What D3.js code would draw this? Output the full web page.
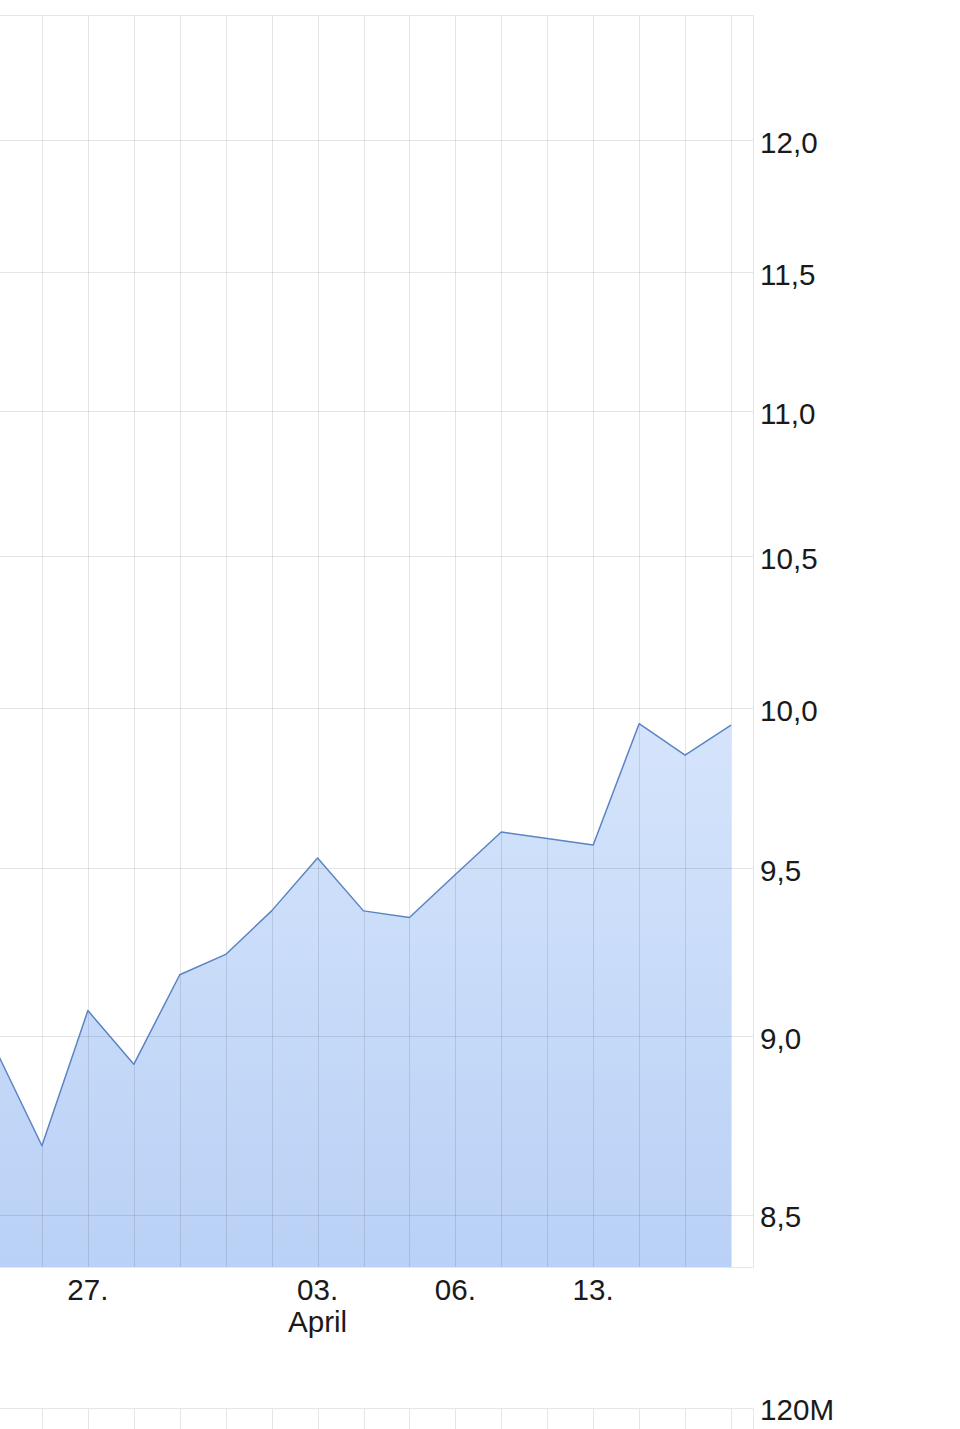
<!DOCTYPE html>
<html>
<head>
<meta charset="utf-8">
<script src="https://cdn.jsdelivr.net/npm/d3@7/dist/d3.min.js"></script>
<style>
  html, body { margin: 0; padding: 0; background: #fff; }
  svg { display: block; font-family: "Liberation Sans", Arial, sans-serif; }
</style>
</head>
<body>
<svg id="chart" width="960" height="1429"></svg>
<script>
// ---- data ----
const dates = ["2023-03-23","2023-03-24","2023-03-27","2023-03-28","2023-03-29","2023-03-30","2023-03-31",
               "2023-04-03","2023-04-04","2023-04-05","2023-04-06","2023-04-11","2023-04-12","2023-04-13",
               "2023-04-14","2023-04-17","2023-04-18"];
const closes = [8.96, 8.69, 9.075, 8.92, 9.18, 9.24, 9.37, 9.53, 9.37, 9.35, 9.48, 9.61, 9.59, 9.57, 9.95, 9.85, 9.945];
const priceTicks = [8.5, 9.0, 9.5, 10.0, 10.5, 11.0, 11.5, 12.0];
const xLabelDates = ["2023-03-27","2023-04-03","2023-04-06","2023-04-13"];
const xLabels = ["27.","03.","06.","13."];
const monthLabelDate = "2023-04-03";
const monthLabel = "April";
const volumeTicks = ["120M"];

// ---- layout ----
const svg = d3.select("#chart");
const plotRight = 753, plotTop = 15, plotBottom = 1267.5;
const volTop = 1408;
const fs = 29.6;

const x = d3.scaleLinear().domain([0, dates.length - 1]).range([-4, 731]);
const y = d3.scaleLog().domain([8.357, 12.49]).range([plotBottom, plotTop]);
const xi = d => dates.indexOf(d);

const defs = svg.append("defs");
const grad = defs.append("linearGradient").attr("id", "fillGrad")
  .attr("x1", 0).attr("x2", 0)
  .attr("gradientUnits", "userSpaceOnUse")
  .attr("y1", y(d3.max(closes))).attr("y2", plotBottom);
grad.append("stop").attr("offset", 0).attr("stop-color", "#d5e4fb");
grad.append("stop").attr("offset", 1).attr("stop-color", "#b9d1f6");

defs.append("clipPath").attr("id", "plotClip").append("rect")
  .attr("x", 0).attr("y", plotTop).attr("width", plotRight).attr("height", plotBottom - plotTop);

const g = svg.append("g").attr("clip-path", "url(#plotClip)");

// area
const area = d3.area().x((d, i) => x(i)).y0(plotBottom).y1(d => y(d));
g.append("path").datum(closes).attr("d", area).attr("fill", "url(#fillGrad)");

// grid (drawn over fill, semi-transparent)
const gridColor = "rgba(0,0,0,0.1)";
g.selectAll("line.hg").data(priceTicks).enter().append("line")
  .attr("x1", 0).attr("x2", plotRight)
  .attr("y1", d => Math.round(y(d)) + 0.5).attr("y2", d => Math.round(y(d)) + 0.5)
  .attr("stroke", gridColor).attr("stroke-width", 1);
g.selectAll("line.vg").data(dates).enter().append("line")
  .attr("x1", (d, i) => Math.round(x(i)) + 0.5).attr("x2", (d, i) => Math.round(x(i)) + 0.5)
  .attr("y1", plotTop).attr("y2", plotBottom)
  .attr("stroke", gridColor).attr("stroke-width", 1);

// line
const line = d3.line().x((d, i) => x(i)).y(d => y(d));
g.append("path").datum(closes).attr("d", line)
  .attr("fill", "none").attr("stroke", "#5a84c4").attr("stroke-width", 1.5).attr("stroke-linejoin", "round");

// border
svg.append("path")
  .attr("d", `M0,${plotTop + 0.5}H${plotRight + 0.5}V${plotBottom}H0`)
  .attr("fill", "none").attr("stroke", "#e6e6e6").attr("stroke-width", 1);

// y axis labels
svg.selectAll("text.yl").data(priceTicks).enter().append("text")
  .attr("x", 760).attr("y", d => y(d) + 12.8)
  .attr("font-size", fs).attr("fill", "#1a1a1a")
  .text(d => d3.format(".1f")(d).replace(".", ","));

// x labels
svg.selectAll("text.xl").data(xLabelDates).enter().append("text")
  .attr("x", d => x(xi(d))).attr("y", 1299.5)
  .attr("text-anchor", "middle").attr("font-size", fs).attr("fill", "#1a1a1a")
  .text((d, i) => xLabels[i]);
svg.append("text").attr("x", x(xi(monthLabelDate))).attr("y", 1332)
  .attr("text-anchor", "middle").attr("font-size", fs).attr("fill", "#1a1a1a")
  .text(monthLabel);

// volume panel (top part visible)
const vg = svg.append("g");
vg.append("path")
  .attr("d", `M0,${volTop + 0.5}H${plotRight + 0.5}V1429`)
  .attr("fill", "none").attr("stroke", "#e6e6e6").attr("stroke-width", 1);
vg.selectAll("line.vvg").data(dates).enter().append("line")
  .attr("x1", (d, i) => Math.round(x(i)) + 0.5).attr("x2", (d, i) => Math.round(x(i)) + 0.5)
  .attr("y1", volTop).attr("y2", 1429)
  .attr("stroke", "#e6e6e6").attr("stroke-width", 1);
vg.selectAll("text.vl").data(volumeTicks).enter().append("text")
  .attr("x", 760).attr("y", volTop + 12)
  .attr("font-size", fs).attr("fill", "#1a1a1a").text(d => d);
</script>
</body>
</html>
